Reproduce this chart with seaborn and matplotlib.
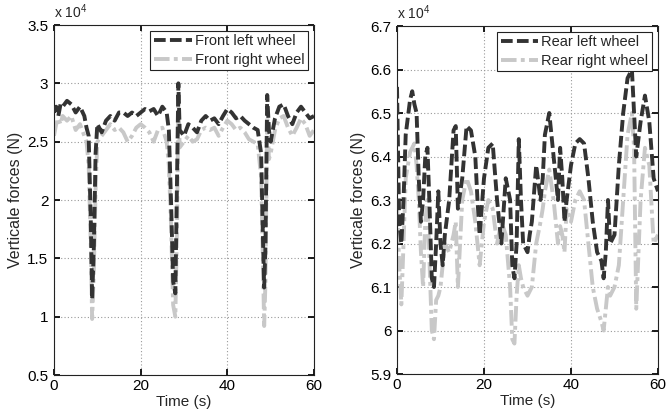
import matplotlib
matplotlib.use("Agg")
import matplotlib.pyplot as plt
import seaborn as sns
import pandas as pd

# ---- data (forces in units of 10^4 N) ----
t_front = [0, 0.5, 1, 1.5, 2, 3, 4, 5, 6, 7, 7.5, 8, 8.5, 8.8, 9.2, 9.6, 10, 11, 12, 13, 14, 15, 16, 17, 18, 19, 20,
           21, 22, 23, 24, 25, 26, 26.5, 27, 27.5, 28, 28.4, 28.7, 29, 30, 31, 32, 33, 34, 35, 36, 37, 38, 39, 40,
           41, 42, 43, 44, 45, 46, 47, 47.8, 48.2, 48.5, 48.8, 49.2, 49.6, 50, 51, 52, 53, 54, 55, 56, 57, 58, 59, 60]
front_left = [2.75, 2.80, 2.72, 2.82, 2.80, 2.85, 2.82, 2.75, 2.80, 2.72, 2.62, 2.55, 1.80, 1.15, 1.60, 2.40, 2.65,
              2.58, 2.68, 2.72, 2.68, 2.75, 2.75, 2.72, 2.75, 2.72, 2.75, 2.78, 2.76, 2.78, 2.72, 2.80, 2.75, 2.60,
              2.00, 1.30, 1.20, 2.20, 3.00, 2.60, 2.55, 2.65, 2.62, 2.58, 2.68, 2.72, 2.68, 2.70, 2.65, 2.72, 2.78,
              2.75, 2.70, 2.72, 2.68, 2.65, 2.62, 2.60, 2.40, 1.70, 1.25, 1.60, 2.90, 2.60, 2.50, 2.70, 2.80, 2.82,
              2.72, 2.65, 2.75, 2.80, 2.75, 2.70, 2.72]
front_right = [2.55, 2.65, 2.70, 2.65, 2.72, 2.68, 2.72, 2.60, 2.65, 2.55, 2.50, 2.30, 1.60, 0.98, 1.40, 2.10, 2.50,
               2.55, 2.60, 2.65, 2.60, 2.62, 2.58, 2.50, 2.55, 2.62, 2.65, 2.62, 2.58, 2.50, 2.60, 2.62, 2.50, 2.30,
               1.80, 1.10, 1.00, 1.80, 2.90, 2.45, 2.50, 2.55, 2.50, 2.52, 2.60, 2.62, 2.60, 2.62, 2.55, 2.62, 2.68,
               2.65, 2.60, 2.62, 2.58, 2.52, 2.50, 2.48, 2.20, 1.50, 0.92, 1.30, 2.75, 2.35, 2.40, 2.60, 2.70, 2.72,
               2.62, 2.55, 2.62, 2.70, 2.65, 2.55, 2.60]

t_rear = [0, 0.5, 1, 1.5, 2, 3, 3.5, 4, 4.5, 5, 5.5, 6, 6.5, 7, 7.5, 8, 8.5, 9, 9.5, 10, 10.5, 11, 12, 13, 13.5, 14,
          15, 16, 17, 18, 18.5, 19, 20, 21, 22, 23, 24, 25, 26, 26.5, 27, 27.5, 28, 28.5, 29, 30, 30.5, 31, 32, 33,
          33.5, 34, 35, 36, 37, 37.5, 38, 38.5, 39, 40, 41, 42, 43, 44, 45, 46, 47, 47.5, 48, 48.5, 49, 50, 51, 52,
          53, 54, 54.5, 55, 56, 57, 58, 59, 60]
rear_left = [6.56, 6.25, 6.20, 6.30, 6.45, 6.53, 6.55, 6.52, 6.50, 6.35, 6.25, 6.30, 6.40, 6.42, 6.28, 6.12, 6.10,
             6.20, 6.32, 6.20, 6.15, 6.22, 6.30, 6.46, 6.47, 6.28, 6.35, 6.47, 6.46, 6.40, 6.30, 6.22, 6.35, 6.42,
             6.43, 6.30, 6.20, 6.35, 6.30, 6.15, 6.12, 6.20, 6.44, 6.30, 6.20, 6.18, 6.22, 6.25, 6.38, 6.30, 6.35,
             6.45, 6.50, 6.40, 6.30, 6.42, 6.35, 6.25, 6.30, 6.38, 6.43, 6.44, 6.43, 6.35, 6.25, 6.18, 6.16, 6.12,
             6.18, 6.30, 6.20, 6.22, 6.38, 6.50, 6.58, 6.60, 6.50, 6.40, 6.48, 6.54, 6.48, 6.35, 6.32]
rear_right = [6.30, 6.15, 6.06, 6.20, 6.35, 6.41, 6.42, 6.43, 6.38, 6.30, 6.18, 6.10, 6.25, 6.30, 6.15, 6.00, 5.98,
              6.07, 6.08, 6.10, 6.15, 6.20, 6.18, 6.22, 6.25, 6.10, 6.30, 6.35, 6.32, 6.25, 6.20, 6.15, 6.25, 6.30,
              6.28, 6.20, 6.25, 6.22, 6.10, 5.98, 5.97, 6.08, 6.15, 6.12, 6.10, 6.08, 6.09, 6.10, 6.20, 6.25, 6.28,
              6.32, 6.37, 6.30, 6.20, 6.24, 6.22, 6.18, 6.28, 6.25, 6.30, 6.32, 6.30, 6.20, 6.10, 6.05, 6.02, 6.00,
              6.05, 6.10, 6.08, 6.10, 6.15, 6.30, 6.45, 6.50, 6.42, 6.05, 6.30, 6.42, 6.38, 6.20, 6.22]

front_labels = ["Front left wheel", "Front right wheel"]
rear_labels = ["Rear left wheel", "Rear right wheel"]
front_yticks = [0.5, 1, 1.5, 2, 2.5, 3, 3.5]
rear_yticks = [5.9, 6.0, 6.1, 6.2, 6.3, 6.4, 6.5, 6.6, 6.7]
xticks = [0, 20, 40, 60]

sns.set_theme(style="white")
plt.rcParams["font.family"] = ["Liberation Sans", "DejaVu Sans"]
plt.rcParams["mathtext.fontset"] = "custom"
plt.rcParams["mathtext.rm"] = "Liberation Sans"
plt.rcParams["mathtext.it"] = "Liberation Sans"

fig = plt.figure(figsize=(6.67, 4.15), dpi=100)
W, H = 667, 415
ax1 = fig.add_axes([54 / W, 1 - 375 / H, 260 / W, 350 / H])
ax2 = fig.add_axes([397 / W, 1 - 374 / H, 261 / W, 348 / H])

dark = "#333333"
light = "#c8c8c8"


def draw(ax, t, a, b, labels, yticks):
    df = pd.DataFrame({"t": list(t) * 2, "v": list(a) + list(b),
                       "s": [labels[0]] * len(t) + [labels[1]] * len(t)})
    sns.lineplot(data=df[df.s == labels[0]], x="t", y="v", ax=ax, color=dark, lw=2.8,
                 label=labels[0], estimator=None)
    sns.lineplot(data=df[df.s == labels[1]], x="t", y="v", ax=ax, color=light, lw=2.8,
                 label=labels[1], estimator=None)
    ax.lines[0].set_dashes([3.0, 1.1])
    ax.lines[1].set_dashes([4, 1.1, 1, 1.1])
    ax.lines[0].set_zorder(3)
    ax.lines[1].set_zorder(2.5)
    ax.set_xlim(0, 60)
    ax.set_ylim(yticks[0], yticks[-1])
    ax.set_xticks(xticks)
    ax.set_yticks(yticks)
    ax.set_yticklabels([f"{v:g}" for v in yticks])
    ax.tick_params(direction="in", length=4, labelsize=11, colors="black", pad=3,
                   top=True, right=True, bottom=True, left=True)
    ax.tick_params(axis="y", pad=4)
    ax.grid(True, color="#999999", linestyle=(0, (1, 2)), linewidth=0.8)
    for sp in ax.spines.values():
        sp.set_color("#222222")
        sp.set_linewidth(0.8)
    ax.set_xlabel("Time (s)", fontsize=11, labelpad=1)
    ax.set_ylabel("Verticale forces (N)", fontsize=11.5, labelpad=3)
    ax.text(0.0, 1.012, "x 10$^{4}$", transform=ax.transAxes, fontsize=10, ha="left", va="bottom")
    leg = ax.legend(loc="upper right", fontsize=10.5, frameon=True, fancybox=False, framealpha=1,
                    edgecolor="#222222", handlelength=2.6, handletextpad=0.2, borderaxespad=0.4,
                    borderpad=0.25, labelspacing=0.3)
    leg.get_frame().set_linewidth(0.8)


draw(ax1, t_front, front_left, front_right, front_labels, front_yticks)
draw(ax2, t_rear, rear_left, rear_right, rear_labels, rear_yticks)

fig.savefig("out.png", dpi=100)
